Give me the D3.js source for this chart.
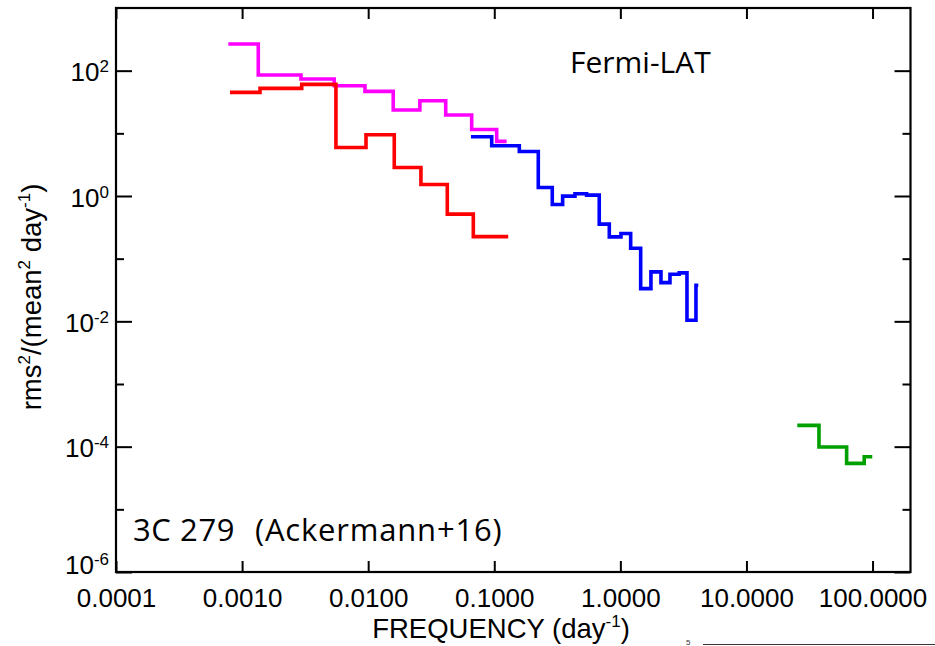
<!DOCTYPE html>
<html>
<head>
<meta charset="utf-8">
<script src="https://cdn.jsdelivr.net/npm/d3@7"></script>
<style>
  html, body { margin: 0; padding: 0; background: #fff; }
  svg { display: block; }
</style>
</head>
<body>
<svg id="chart" width="935" height="646"></svg>
<script>
// ---- Data (bin edges in day^-1, power per bin) ----
const magentaEdges = [7.78e-4, 1.344e-3, 2.93e-3, 5.38e-3, 9.43e-3, 0.0158, 0.0257, 0.0412, 0.0662, 0.1045, 0.1253];
const magentaPower = [267, 85.3, 73.7, 57.6, 46.7, 23.6, 33.2, 19.6, 11.5, 7.43];

const redEdges = [8.02e-4, 1.387e-3, 2.97e-3, 5.55e-3, 9.61e-3, 0.0161, 0.0262, 0.0424, 0.0682, 0.129];
const redPower = [45.0, 52.2, 60.4, 5.95, 9.50, 2.85, 1.53, 0.514, 0.225];

const blueEdges = [0.0653, 0.0954, 0.158, 0.2234, 0.2884, 0.3485, 0.4365, 0.540, 0.680, 0.817, 1.011, 1.207, 1.449, 1.748, 2.099, 2.474, 2.931, 3.375, 3.977, 4.148];
const bluePower = [8.83, 6.34, 5.14, 1.367, 0.731, 0.996, 1.084, 1.034, 0.356, 0.223, 0.252, 0.147, 0.0333, 0.0615, 0.0415, 0.0565, 0.0593, 0.0104, 0.0377];

const greenEdges = [25.3, 37.6, 62.3, 85.9, 99.5];
const greenPower = [2.19e-4, 0.99e-4, 5.41e-5, 6.9e-5];

const xTickValues = [1e-4, 1e-3, 1e-2, 1e-1, 1, 10, 100];
const yMajorTicks = [1e2, 1e0, 1e-2, 1e-4, 1e-6];
const yMinorTicks = [1e1, 1e-1, 1e-3, 1e-5];
const yTickExponents = ["2", "0", "-2", "-4", "-6"];

const series = [
  { edges: magentaEdges, power: magentaPower, color: "#ff00ff" },
  { edges: redEdges, power: redPower, color: "#ff0000" },
  { edges: blueEdges, power: bluePower, color: "#0000ff" },
  { edges: greenEdges, power: greenPower, color: "#00a000" }
];

// ---- Layout ----
const L = 116, R = 910.5, T = 8, B = 572;
const svg = d3.select("#chart");
const FONT = "'Liberation Sans', Arial, Helvetica, sans-serif";

const x = d3.scaleLog().domain([1e-4, 200]).range([L, R]);
const y = d3.scaleLog().domain([1e-6, 1e3]).range([B, T]);

// ---- Data lines ----
const line = d3.line().x(d => x(d[0])).y(d => y(d[1])).curve(d3.curveStepAfter);
series.forEach(s => {
  const pts = s.edges.map((e, i) => [e, s.power[Math.min(i, s.power.length - 1)]]);
  svg.append("path")
    .attr("d", line(pts))
    .attr("fill", "none")
    .attr("stroke", s.color)
    .attr("stroke-width", 3.6)
    .attr("stroke-linejoin", "miter");
});

// ---- Axes ----
const axisStyle = g => {
  g.select(".domain").remove();
  g.selectAll(".tick line").attr("stroke", "#000").attr("stroke-width", 2);
};

// bottom
const xb = svg.append("g").attr("transform", `translate(0,${B})`)
  .call(d3.axisBottom(x).tickValues(xTickValues).tickSizeInner(-11).tickSizeOuter(0)
    .tickPadding(16.5).tickFormat(d3.format(".4f")));
axisStyle(xb);
xb.selectAll(".tick text").attr("font-family", FONT).attr("font-size", 26).attr("fill", "#000");

// top
const xt = svg.append("g").attr("transform", `translate(0,${T})`)
  .call(d3.axisTop(x).tickValues(xTickValues).tickSizeInner(-11).tickSizeOuter(0).tickFormat(""));
axisStyle(xt);

// left major
const yl = svg.append("g").attr("transform", `translate(${L},0)`)
  .call(d3.axisLeft(y).tickValues(yMajorTicks).tickSizeInner(-16).tickSizeOuter(0).tickFormat(""));
axisStyle(yl);
yl.selectAll(".tick").each(function(d, i) {
  const t = d3.select(this).append("text")
    .attr("font-family", FONT).attr("font-size", 26).attr("fill", "#000")
    .attr("text-anchor", "end")
    .attr("x", -7)
    .attr("y", d === 1e-6 ? 1 : 10);
  t.append("tspan").text("10");
  t.append("tspan").attr("font-size", 17).attr("dy", -9).text(yTickExponents[i]);
});
// left minor
const ylm = svg.append("g").attr("transform", `translate(${L},0)`)
  .call(d3.axisLeft(y).tickValues(yMinorTicks).tickSizeInner(-8).tickSizeOuter(0).tickFormat(""));
axisStyle(ylm);

// right major / minor
const yr = svg.append("g").attr("transform", `translate(${R},0)`)
  .call(d3.axisRight(y).tickValues(yMajorTicks).tickSizeInner(-16).tickSizeOuter(0).tickFormat(""));
axisStyle(yr);
const yrm = svg.append("g").attr("transform", `translate(${R},0)`)
  .call(d3.axisRight(y).tickValues(yMinorTicks).tickSizeInner(-8).tickSizeOuter(0).tickFormat(""));
axisStyle(yrm);

// frame
svg.append("rect")
  .attr("x", L).attr("y", T).attr("width", R - L).attr("height", B - T)
  .attr("fill", "none").attr("stroke", "#000").attr("stroke-width", 2.2);

// ---- Axis titles ----
const xt2 = svg.append("text")
  .attr("x", 501).attr("y", 638)
  .attr("text-anchor", "middle")
  .attr("font-family", FONT).attr("font-size", 27.5).attr("fill", "#000");
xt2.append("tspan").text("FREQUENCY (day");
xt2.append("tspan").attr("font-size", 17).attr("dy", -11).text("-1");
xt2.append("tspan").attr("dy", 11).text(")");

const yt = svg.append("text")
  .attr("transform", "translate(41,297) rotate(-90)")
  .attr("text-anchor", "middle")
  .attr("font-family", FONT).attr("font-size", 27.5).attr("fill", "#000");
yt.append("tspan").text("rms");
yt.append("tspan").attr("font-size", 17).attr("dy", -11).text("2");
yt.append("tspan").attr("dy", 11).text("/(mean");
yt.append("tspan").attr("font-size", 17).attr("dy", -11).text("2");
yt.append("tspan").attr("dy", 11).text(" day");
yt.append("tspan").attr("font-size", 17).attr("dy", -11).text("-1");
yt.append("tspan").attr("dy", 11).text(")");

// ---- Annotations ----
const ANN = "'Open Sans', 'Noto Sans', sans-serif";
svg.append("text")
  .attr("x", 570).attr("y", 73)
  .attr("font-family", ANN).attr("font-size", 30).attr("fill", "#000")
  .text("Fermi-LAT");

const a2 = svg.append("text")
  .attr("x", 133).attr("y", 541)
  .attr("font-family", ANN).attr("font-size", 31).attr("fill", "#000");
a2.append("tspan").attr("letter-spacing", 0.6).text("3C 279");
a2.append("tspan").attr("x", 255).attr("letter-spacing", 0.8).text("(Ackermann+16)");

// slide remnant at bottom right
svg.append("line")
  .attr("x1", 703).attr("x2", 935).attr("y1", 644.5).attr("y2", 644.5)
  .attr("stroke", "#333").attr("stroke-width", 1);
svg.append("text")
  .attr("x", 686).attr("y", 645)
  .attr("font-family", FONT).attr("font-size", 8).attr("fill", "#333")
  .text("5");
</script>
</body>
</html>
